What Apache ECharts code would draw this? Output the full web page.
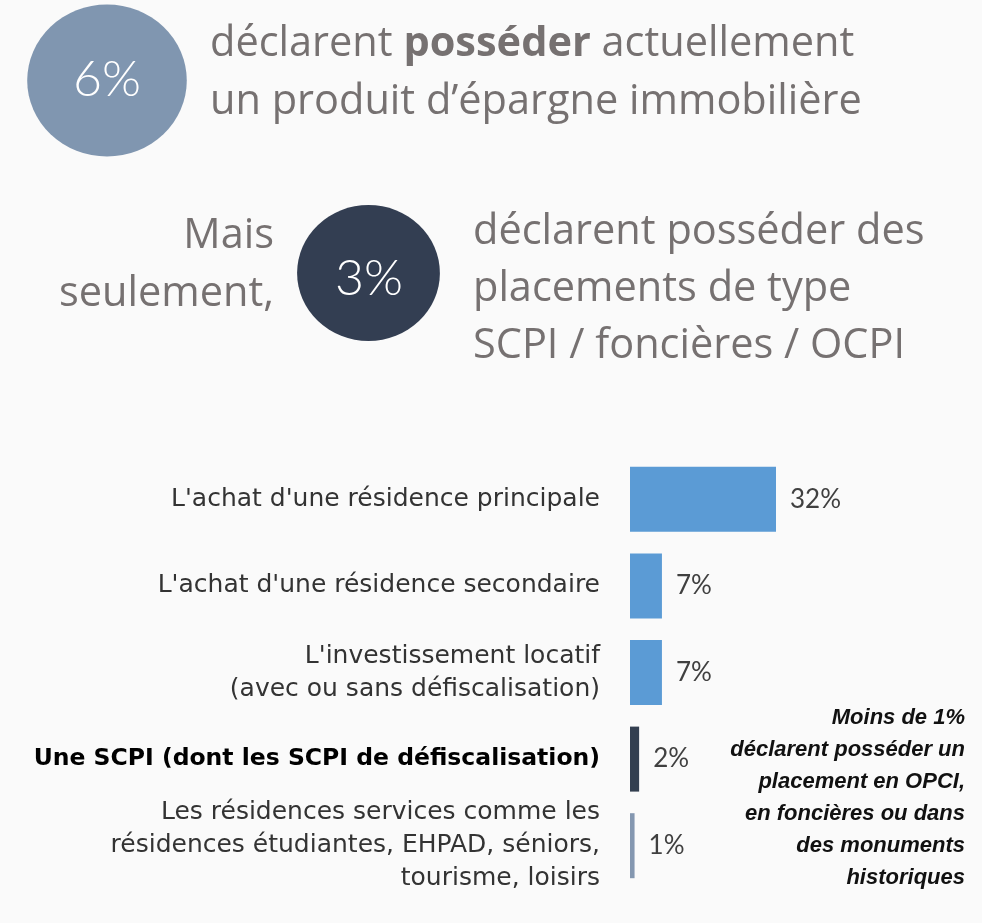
<!DOCTYPE html>
<html><head><meta charset="utf-8">
<script src="https://cdn.jsdelivr.net/npm/echarts@6/dist/echarts.min.js"></script>
<style>html,body{margin:0;padding:0;background:#FAFAFA}#c{width:982px;height:923px}</style>
</head><body><div id="c"></div>
<script>
const categories = [
  "L'achat d'une résidence principale",
  "L'achat d'une résidence secondaire",
  "L'investissement locatif\n(avec ou sans défiscalisation)",
  "Une SCPI (dont les SCPI de défiscalisation)",
  "Les résidences services comme les\nrésidences étudiantes, EHPAD, séniors,\ntourisme, loisirs"
];
const values = [32, 7, 7, 2, 1];
const barColors = ['#5B9BD5', '#5B9BD5', '#5B9BD5', '#333F50', '#8497B0'];
const highlightIndex = 3;
const headlineStats = [6, 3];
const headlineText1 = ['déclarent ', 'posséder', ' actuellement', 'un produit d’épargne immobilière'];
const headlineLead2 = 'Mais\nseulement,';
const headlineText2 = 'déclarent posséder des\nplacements de type\nSCPI / foncières / OCPI';
const noteText = 'Moins de 1%\ndéclarent posséder un\nplacement en OPCI,\nen foncières ou dans\ndes monuments\nhistoriques';

const chart = echarts.init(document.getElementById('c'));
const grey = '#767171';
const headFont = '"Open Sans", sans-serif';
const hs = 41.5;
chart.setOption({
  backgroundColor: '#FAFAFA',
  animation: false,
  grid: { left: 630, right: 169.5, top: 456, bottom: 34, containLabel: false },
  xAxis: { type: 'value', min: 0, max: 40, show: false },
  yAxis: {
    type: 'category', data: categories, inverse: true,
    axisLine: { show: false }, axisTick: { show: false },
    axisLabel: {
      margin: 30, align: 'right', fontSize: 25, lineHeight: 33,
      fontFamily: '"DejaVu Sans", sans-serif', color: '#333333',
      formatter: (v, i) => i === highlightIndex ? '{b|' + v + '}' : v,
      rich: { b: { fontWeight: 'bold', color: '#000', fontSize: 23.5, fontFamily: '"DejaVu Sans", sans-serif' } }
    }
  },
  series: [{
    type: 'bar', data: values.map((v, i) => ({ value: v, itemStyle: { color: barColors[i] } })),
    barWidth: 65,
    label: { show: true, position: 'right', distance: 14, formatter: '{c}%', fontSize: 26,
      color: '#404040', fontFamily: 'Lato, sans-serif' }
  }],
  graphic: [
    { type: 'circle', shape: { cx: 0, cy: 0, r: 76 }, x: 107, y: 80.5, scaleX: 1.05, style: { fill: '#8096B0' } },
    { type: 'text', x: 107, y: 80, style: { text: headlineStats[0] + '%', fill: '#fff', fontSize: 50,
        fontFamily: 'Lato, sans-serif', fontWeight: 300, align: 'center', verticalAlign: 'middle' } },
    { type: 'circle', shape: { cx: 0, cy: 0, r: 68 }, x: 368.5, y: 273, scaleX: 1.05, style: { fill: '#333E52' } },
    { type: 'text', x: 369, y: 279, style: { text: headlineStats[1] + '%', fill: '#fff', fontSize: 50,
        fontFamily: 'Lato, sans-serif', fontWeight: 300, align: 'center', verticalAlign: 'middle' } },
    { type: 'text', x: 210, y: 15, style: {
        text: '{n|' + headlineText1[0] + '}{bb|' + headlineText1[1] + '}{n|' + headlineText1[2] + '}\n{n|' + headlineText1[3] + '}',
        rich: { n: { fontSize: hs, lineHeight: 58, fill: grey, fontFamily: headFont },
                bb: { fontSize: hs, lineHeight: 58, fill: grey, fontFamily: headFont, fontWeight: 'bold' } },
        align: 'left', verticalAlign: 'top' } },
    { type: 'text', x: 274, y: 207, style: { text: headlineLead2, fontSize: hs, lineHeight: 58, fill: grey,
        fontFamily: headFont, align: 'right', verticalAlign: 'top' } },
    { type: 'text', x: 473, y: 204, style: { text: headlineText2, fontSize: hs, lineHeight: 57, fill: grey,
        fontFamily: headFont, align: 'left', verticalAlign: 'top' } },
    { type: 'text', x: 965, y: 702, style: { text: noteText, fontSize: 22, lineHeight: 32, fill: '#111',
        fontFamily: '"Liberation Sans", sans-serif', fontWeight: 'bold', fontStyle: 'italic', align: 'right', verticalAlign: 'top' } }
  ]
});
</script></body></html>
